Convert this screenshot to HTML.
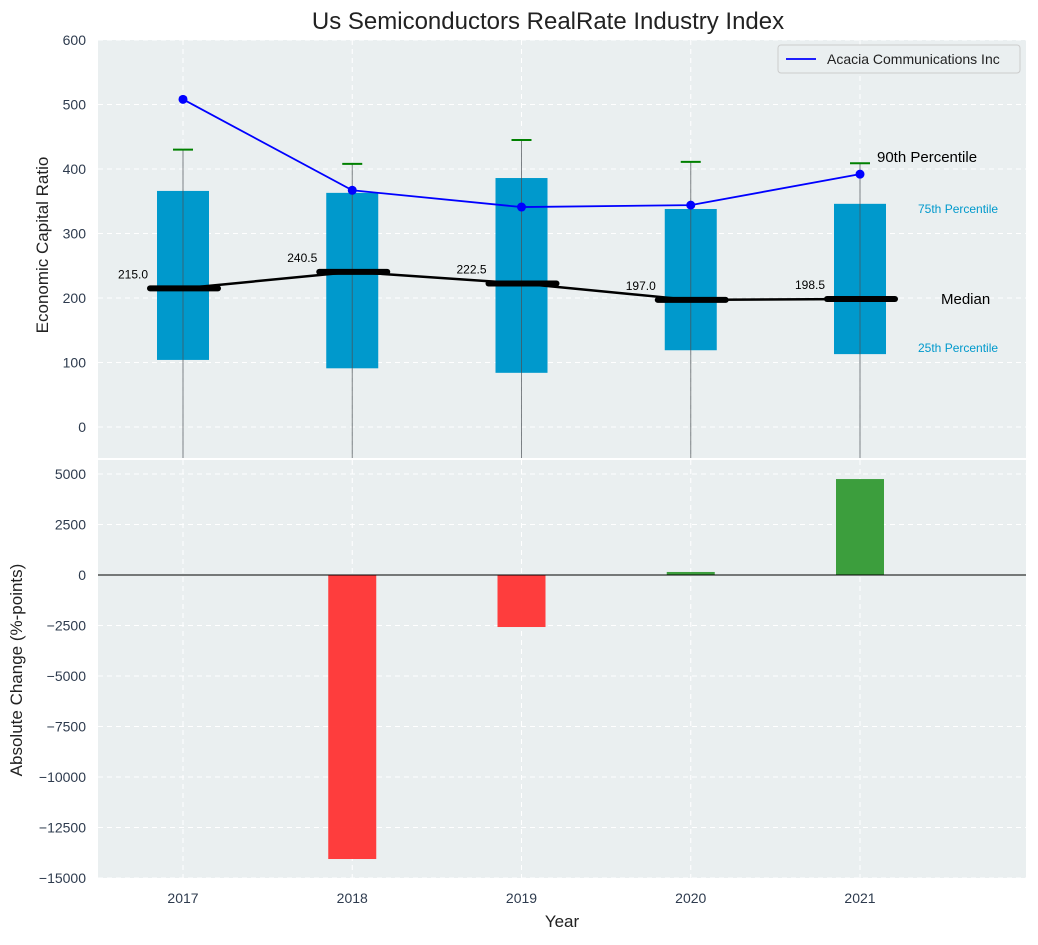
<!DOCTYPE html>
<html><head><meta charset="utf-8"><style>
body{margin:0;background:#fff;font-family:"Liberation Sans",sans-serif}
</style></head><body>
<svg id="c" width="1038" height="940" xmlns="http://www.w3.org/2000/svg" font-family="Liberation Sans, sans-serif"></svg>
<script>
const years=[2017,2018,2019,2020,2021];
const p25=[104,91,84,119,113];
const p75=[366,363,386,338,346];
const medians=[215.0,240.5,222.5,197.0,198.5];
const p90=[430,408,445,411,409];
const acacia=[508,367,341,344,392];
const changes=[0,-14060,-2575,150,4750];
const topTicks=[0,100,200,300,400,500,600];
const botTicks=[5000,2500,0,-2500,-5000,-7500,-10000,-12500,-15000];

const svg=document.getElementById('c');const NS='http://www.w3.org/2000/svg';
function el(t,a,p){const e=document.createElementNS(NS,t);for(const k in a)e.setAttribute(k,a[k]);(p||svg).appendChild(e);return e;}
const L=98,R=1026;
const x=v=>183+(v-2017)*169.25;
const yT=v=>427-v*0.645;
const yB=v=>575-v*0.0202;
let e=el('rect',{x:L,y:40,width:R-L,height:418,fill:'#eaeff0'});


e=el('rect',{x:L,y:460,width:R-L,height:418,fill:'#eaeff0'});


topTicks.forEach(t=>{
 el('line',{x1:L,x2:R,y1:yT(t),y2:yT(t),stroke:'#fff','stroke-dasharray':'5,4','stroke-width':1});
 const tx=el('text',{x:86,y:yT(t)+5,'text-anchor':'end','font-size':14,fill:'#2e3b4e'});tx.textContent=t;
 
 
});
botTicks.forEach(t=>{
 el('line',{x1:L,x2:R,y1:yB(t),y2:yB(t),stroke:'#fff','stroke-dasharray':'5,4','stroke-width':1});
 const tx=el('text',{x:86,y:yB(t)+5,'text-anchor':'end','font-size':14,fill:'#2e3b4e'});tx.textContent=String(t).replace('-','\u2212');
 
 
});
years.forEach(yv=>{
 el('line',{x1:x(yv),x2:x(yv),y1:40,y2:458,stroke:'#fff','stroke-dasharray':'5,4'});
 el('line',{x1:x(yv),x2:x(yv),y1:460,y2:878,stroke:'#fff','stroke-dasharray':'5,4'});
 const tx=el('text',{x:x(yv),y:903,'text-anchor':'middle','font-size':14,fill:'#2e3b4e'});tx.textContent=yv;
 
 
});
years.forEach((yv,i)=>{
 const b=el('rect',{x:x(yv)-26,y:yT(p75[i]),width:52,height:yT(p25[i])-yT(p75[i]),fill:'#0099cc'});
 
 
 el('line',{x1:x(yv),x2:x(yv),y1:yT(p90[i]),y2:458,stroke:'#4a5055','stroke-width':1,opacity:0.7});
 const c=el('line',{x1:x(yv)-10,x2:x(yv)+10,y1:yT(p90[i]),y2:yT(p90[i]),stroke:'green','stroke-width':2});
 
 
});
const ml=el('polyline',{points:years.map((yv,i)=>x(yv)+','+yT(medians[i])).join(' '),fill:'none',stroke:'#000','stroke-width':2.5});


years.forEach((yv,i)=>{
 const m=el('line',{x1:x(yv)-33,x2:x(yv)+35,y1:yT(medians[i]),y2:yT(medians[i]),stroke:'#000','stroke-width':6,'stroke-linecap':'round'});
 
 
 const t=el('text',{x:x(yv)-35,y:yT(medians[i])-10,'text-anchor':'end','font-size':12,fill:'#000'});t.textContent=medians[i].toFixed(1);
 
 
});
const al=el('polyline',{points:years.map((yv,i)=>x(yv)+','+yT(acacia[i])).join(' '),fill:'none',stroke:'#0000ff','stroke-width':1.8});


years.forEach((yv,i)=>{const d=el('circle',{cx:x(yv),cy:yT(acacia[i]),r:4.5,fill:'#0000ff'});
 
 });
[['90th Percentile',877,162,15,'#000'],['75th Percentile',918,213,12,'#0099cc'],['Median',941,304,15,'#000'],['25th Percentile',918,352,12,'#0099cc']].forEach(a=>{
 const t=el('text',{x:a[1],y:a[2],'font-size':a[3],fill:a[4]});t.textContent=a[0];
 
 
});
years.forEach((yv,i)=>{const v=changes[i];const y0=yB(Math.max(v,0)),y1=yB(Math.min(v,0));
 const b=el('rect',{x:x(yv)-24,y:y0,width:48,height:y1-y0,fill:v<0?'#ff3333':'#339933',opacity:0.95});
 
 });
el('line',{x1:L,x2:R,y1:yB(0),y2:yB(0),stroke:'#000','stroke-width':1});
const lg=el('g',{});


el('rect',{x:778,y:45,width:242,height:28,rx:3,fill:'#eaeff0',stroke:'#ccc'},lg);
el('line',{x1:786,x2:816,y1:59,y2:59,stroke:'#0000ff','stroke-width':1.8},lg);
let t=el('text',{x:827,y:64,'font-size':14,fill:'#222'},lg);t.textContent='Acacia Communications Inc';
t=el('text',{x:548,y:29,'text-anchor':'middle','font-size':24,fill:'#222'});t.textContent='Us Semiconductors RealRate Industry Index';

t=el('text',{x:562,y:927,'text-anchor':'middle','font-size':17,fill:'#222'});t.textContent='Year';

t=el('text',{x:48,y:245,'text-anchor':'middle','font-size':17,fill:'#222',transform:'rotate(-90 48 245)'});t.textContent='Economic Capital Ratio';

t=el('text',{x:22,y:670,'text-anchor':'middle','font-size':17,fill:'#222',transform:'rotate(-90 22 670)'});t.textContent='Absolute Change (%-points)';

</script>
</body></html>
